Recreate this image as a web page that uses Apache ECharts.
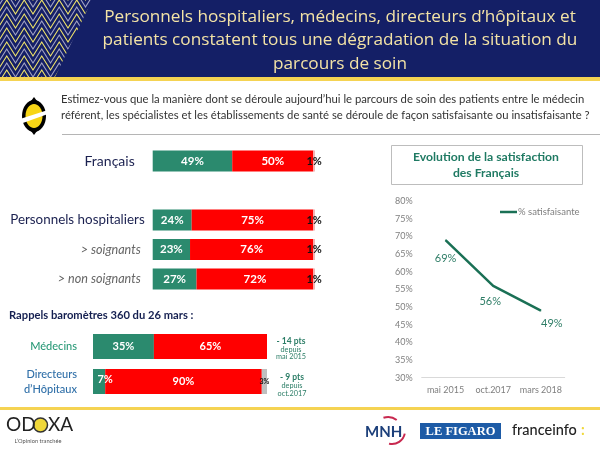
<!DOCTYPE html>
<html>
<head>
<meta charset="utf-8">
<script src="https://cdn.jsdelivr.net/npm/echarts@6/dist/echarts.min.js"></script>
<style>
  html, body { margin: 0; padding: 0; background: #fff; }
  #chart { width: 600px; height: 450px; }
</style>
</head>
<body>
<div id="chart"></div>
<script>
// bars on top
const mainCats = ['Français', '', 'Personnels hospitaliers', '> soignants', '> non soignants'];
const mainSatisf = [49, null, 24, 23, 27];
const mainInsatisf = [50, null, 75, 76, 72];
const mainNsp = [1, null, 1, 1, 1];

// bars "rappels"
const rappelCats = ['Médecins', 'Directeurs\nd’Hôpitaux'];
const rappelSatisf = [35, 7];
const rappelInsatisf = [65, 90];
const rappelNsp = [0, 3];

// line chart
const evoDates = ['mai 2015', 'oct.2017', 'mars 2018'];
const evoValues = [69, 56, 49];

const GREEN = '#2b8a6e';
const RED = '#ff0000';
const NAVY = '#141f66';
const GOLD = '#f5d352';
const FONT = 'Lato, sans-serif';

var chart = echarts.init(document.getElementById('chart'));

// little helper so the graphic list stays readable
function txt(x, y, text, size, color, align, extra) {
  return {
    type: 'text', x: x, y: y, z: 10, silent: true,
    style: Object.assign({
      text: text, fontSize: size, fill: color, fontFamily: FONT,
      align: align || 'left', verticalAlign: 'middle'
    }, extra || {})
  };
}

// decoration: header, chevrons, logos
let deco = [
  { type: 'rect', z: 0, shape: { x: 0, y: 0, width: 600, height: 77 }, style: { fill: NAVY } }
];
for (let r = -3; r < 12; r++) {
  let pts = [];
  for (let k = 0; k < 14; k++) {
    pts.push([k * 8.75 - 2, r * 7 + (k % 2 === 0 ? 14 : 0)]);
  }
  deco.push({
    type: 'polyline', z: 1, shape: { points: pts },
    style: { fill: null, stroke: r % 2 === 0 ? '#efe36a' : '#a3a3c4', lineWidth: 1.1 }
  });
}
deco.push(
  // hides the chevrons right of the slanted edge and below the header
  { type: 'polygon', z: 2, shape: { points: [[92, 0], [130, 0], [130, 77], [55, 77]] }, style: { fill: NAVY } },
  { type: 'rect', z: 2, shape: { x: 0, y: 77, width: 600, height: 4 }, style: { fill: GOLD } },
  { type: 'rect', z: 2, shape: { x: 0, y: 81, width: 600, height: 18 }, style: { fill: '#fff' } },
  { type: 'rect', z: 2, shape: { x: 0, y: 407, width: 600, height: 3 }, style: { fill: GOLD } },
  { type: 'rect', z: 2, shape: { x: 62, y: 134, width: 538, height: 1 }, style: { fill: '#b5b5b5' } },
  // odoxa icon
  { type: 'ellipse', z: 3, shape: { cx: 34, cy: 116, rx: 12, ry: 16 }, style: { fill: '#000' } },
  { type: 'polygon', z: 3, shape: { points: [[31, 101], [34, 97], [37, 101]] }, style: { fill: '#000' } },
  { type: 'polygon', z: 3, shape: { points: [[31, 131], [34, 135], [37, 131]] }, style: { fill: '#000' } },
  { type: 'ellipse', z: 4, shape: { cx: 34, cy: 116, rx: 8.5, ry: 12 }, style: { fill: '#f7d516' } },
  { type: 'polygon', z: 5, shape: { points: [[20, 119], [48, 110], [48, 114], [20, 124]] }, style: { fill: '#fff' } },
  // question box title
  { type: 'rect', z: 1, shape: { x: 391.5, y: 145.5, width: 191, height: 39 }, style: { fill: '#fff', stroke: '#bdbdbd', lineWidth: 1 } },
  txt(486, 157, 'Evolution de la satisfaction', 12.2, '#1f7a63', 'center', { fontWeight: 'bold' }),
  txt(486, 173, 'des Français', 12.2, '#1f7a63', 'center', { fontWeight: 'bold' }),
  txt(9, 315, 'Rappels baromètres 360 du 26 mars :', 11.2, '#141f50', 'left', { fontWeight: 'bold' }),
  // notes next to the lower bars
  txt(291, 341, '- 14 pts', 8.5, '#2b7d66', 'center', { fontWeight: 'bold' }),
  txt(291, 349.5, 'depuis', 7.3, '#2b7d66', 'center'),
  txt(291, 357, 'mai 2015', 7.3, '#2b7d66', 'center'),
  txt(292, 377.5, '- 9 pts', 8.5, '#2b7d66', 'center', { fontWeight: 'bold' }),
  txt(292, 386, 'depuis', 7.3, '#2b7d66', 'center'),
  txt(292, 393.5, 'oct.2017', 7.3, '#2b7d66', 'center'),
  // odoxa logo
  txt(6, 425, 'OD', 19, '#222', 'left', { fontFamily: 'Lato, sans-serif' }),
  { type: 'circle', z: 9, shape: { cx: 40.5, cy: 425, r: 7 }, style: { fill: '#f0d83a', stroke: '#333', lineWidth: 1.5 } },
  txt(48, 425, 'XA', 19, '#222'),
  txt(38, 441.5, 'L’Opinion tranchée', 5.7, '#555', 'center'),
  // partners
  txt(365, 432, 'MNH', 15, '#1c3f7a', 'left', { fontWeight: 'bold' }),
  { type: 'arc', z: 9, shape: { cx: 388, cy: 431, r: 14, startAngle: -1.9, endAngle: -0.9 }, style: { fill: null, stroke: '#c8284f', lineWidth: 2 } },
  { type: 'arc', z: 9, shape: { cx: 392, cy: 431, r: 13, startAngle: 0.2, endAngle: 1.8 }, style: { fill: null, stroke: '#c8284f', lineWidth: 2 } },
  { type: 'rect', z: 9, shape: { x: 420, y: 423, width: 81, height: 16 }, style: { fill: '#1d5ba6' } },
  txt(460.5, 431.5, 'LE FIGARO', 12.5, '#fff', 'center', { fontFamily: 'Liberation Serif', fontWeight: 'bold' }),
  txt(512, 430.5, 'franceinfo', 14.5, '#222', 'left', { fontWeight: 500 }),
  txt(581, 430.5, ':', 14.5, '#f0d83a', 'left', { fontWeight: 'bold' })
);

// stacked bars, same recipe for both charts
function barSeries(axisIdx, data, color, labelColor, size, fmt) {
  return {
    type: 'bar', stack: 's' + axisIdx, xAxisIndex: axisIdx, yAxisIndex: axisIdx,
    barWidth: axisIdx === 0 ? 21 : 25,
    data: data,
    itemStyle: { color: color },
    label: {
      show: true, position: 'inside', color: labelColor, fontSize: size, fontWeight: 'bold',
      fontFamily: FONT, formatter: fmt || '{c}%'
    }
  };
}

const option = {
  animation: false,
  backgroundColor: '#fff',
  textStyle: { fontFamily: FONT },
  title: [
    {
      text: 'Personnels hospitaliers, médecins, directeurs d’hôpitaux et\npatients constatent tous une dégradation de la situation du\nparcours de soin',
      left: 340, top: 5, padding: 0, textAlign: 'center', z: 10,
      textStyle: { color: '#f3e3a6', fontSize: 17.2, fontWeight: 'normal', lineHeight: 23.5, fontFamily: 'Open Sans' }
    },
    {
      text: 'Estimez-vous que la manière dont se déroule aujourd’hui le parcours de soin des patients entre le médecin\nréférent, les spécialistes et les établissements de santé se déroule de façon satisfaisante ou insatisfaisante ?',
      left: 61, top: 91, padding: 0, z: 10,
      textStyle: { color: '#333', fontSize: 11.3, fontWeight: 'normal', lineHeight: 16, fontFamily: FONT }
    }
  ],
  legend: {
    data: [{ name: '% satisfaisante', icon: 'rect' }],
    left: 500, top: 207, padding: 0,
    itemWidth: 17, itemHeight: 2.5,
    textStyle: { color: '#7f7f7f', fontSize: 9.5, padding: [0, 0, 0, -4], fontFamily: FONT }
  },
  grid: [
    { left: 152.7, top: 146.3, width: 162.3, height: 147.5 },
    { left: 93, top: 329, width: 174, height: 70 },
    { left: 421.7, top: 201.3, width: 143, height: 176.4 }
  ],
  xAxis: [
    { gridIndex: 0, type: 'value', min: 0, max: 100, show: false },
    { gridIndex: 1, type: 'value', min: 0, max: 100, show: false },
    {
      gridIndex: 2, type: 'category', data: evoDates,
      axisLine: { lineStyle: { color: '#d9d9d9' } }, axisTick: { show: false },
      axisLabel: { color: '#7f7f7f', fontSize: 9, margin: 8, interval: 0 }
    }
  ],
  yAxis: [
    {
      gridIndex: 0, type: 'category', inverse: true, data: mainCats,
      axisLine: { show: false }, axisTick: { show: false },
      axisLabel: {
        interval: 0, margin: 8,
        formatter: function (v, i) {
          if (i === 0) return '{fr|' + v + '}';
          if (i === 2) return '{ph|' + v + '}';
          return v ? '{sub|' + v + '}' : '';
        },
        rich: {
          fr: { fontSize: 14, color: '#1b2150', padding: [0, 10, 0, 0], fontFamily: FONT },
          ph: { fontSize: 13.4, color: '#1b2150', fontFamily: FONT },
          sub: { fontSize: 12.6, color: '#666', fontStyle: 'italic', padding: [0, 4, 0, 0], fontFamily: FONT }
        }
      }
    },
    {
      gridIndex: 1, type: 'category', inverse: true, data: rappelCats,
      axisLine: { show: false }, axisTick: { show: false },
      axisLabel: {
        interval: 0, margin: 16, fontSize: 11, fontWeight: 500, lineHeight: 15,
        color: function (v) { return v === 'Médecins' ? '#2b9a78' : '#2f6fa8'; }
      }
    },
    {
      gridIndex: 2, type: 'value', min: 30, max: 80, interval: 5,
      axisLine: { show: false }, axisTick: { show: false }, splitLine: { show: false },
      axisLabel: { color: '#7f7f7f', fontSize: 9, margin: 9, formatter: '{value}%' }
    }
  ],
  series: [
    barSeries(0, mainSatisf, GREEN, '#fff', 11.5),
    barSeries(0, mainInsatisf, RED, '#fff', 11.5),
    barSeries(0, mainNsp, '#f2b5b5', '#111', 11),
    barSeries(1, rappelSatisf.map(function (v, i) {
      // the 7% sits on the edge of its segment in the original
      return i === 1 ? { value: v, label: { offset: [6, -2] } } : v;
    }), GREEN, '#fff', 11),
    barSeries(1, rappelInsatisf, RED, '#fff', 11),
    barSeries(1, rappelNsp, '#bfbfbf', '#111', 7, function (p) { return p.value ? p.value + '%' : ''; }),
    {
      name: '% satisfaisante', type: 'line', xAxisIndex: 2, yAxisIndex: 2,
      data: evoValues, symbol: 'circle', symbolSize: 1, showSymbol: true,
      lineStyle: { color: '#1a7055', width: 2.5 },
      itemStyle: { color: '#1a7055' },
      label: {
        show: true, position: 'bottom', color: '#2e7d66', fontSize: 11, formatter: '{c}%',
        fontFamily: FONT
      },
      labelLayout: function (p) {
        return { dx: [0, -3, 11][p.dataIndex], dy: [7, 4, 2][p.dataIndex] };
      }
    }
  ],
  graphic: { elements: deco }
};

chart.setOption(option);
</script>
</body>
</html>
